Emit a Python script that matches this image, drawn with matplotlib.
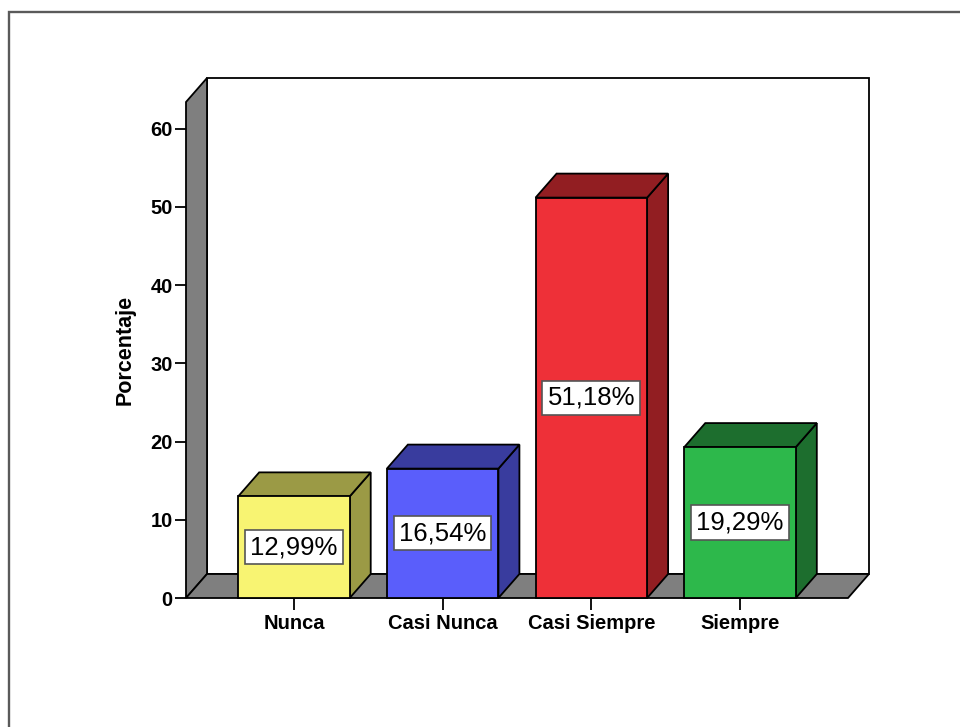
import matplotlib
matplotlib.use('Agg')
import matplotlib.pyplot as plt
from matplotlib.patches import Rectangle, Polygon

# Data
categories = ['Nunca', 'Casi Nunca', 'Casi Siempre', 'Siempre']
percentages = [12.99, 16.54, 51.18, 19.29]
front_colors = ['#F8F472', '#5A5EFB', '#EE3038', '#2DB84B']
dark_colors = ['#9B9A45', '#393C9E', '#921E22', '#1D6E2E']
yticks = [0, 10, 20, 30, 40, 50, 60]

plt.rcParams['font.family'] = ['Liberation Sans', 'DejaVu Sans']

fig = plt.figure(figsize=(9.6, 7.27), dpi=100)
ax = fig.add_axes([186 / 960, 129 / 727, 662 / 960, 496 / 727])

xmin, xmax = -0.726, len(categories) - 1 + 0.726
ytop = 63.4
ax.set_xlim(xmin, xmax)
ax.set_ylim(0, ytop)
for s in ax.spines.values():
    s.set_visible(False)
ax.patch.set_visible(False)

# depth of the 3D effect, in pixels, converted to data units
p0 = ax.transData.transform((0, 0))
d = ax.transData.inverted().transform((p0[0] + 21, p0[1] + 24))
ddx, ddy = d[0], d[1]

edge = dict(edgecolor='black', linewidth=1.3, clip_on=False)

# back wall, left wall, floor
ax.add_patch(Rectangle((xmin + ddx, ddy), xmax - xmin, ytop, facecolor='white', zorder=1, **edge))
ax.add_patch(Polygon([(xmin, 0), (xmin, ytop), (xmin + ddx, ytop + ddy), (xmin + ddx, ddy)],
                     closed=True, facecolor='#7F7F7F', zorder=2, **edge))
ax.add_patch(Polygon([(xmin, 0), (xmax, 0), (xmax + ddx, ddy), (xmin + ddx, ddy)],
                     closed=True, facecolor='#7F7F7F', zorder=2, **edge))

# bars
w = 0.75
for i, (v, fc, dc) in enumerate(zip(percentages, front_colors, dark_colors)):
    x0, x1 = i - w / 2, i + w / 2
    ax.add_patch(Polygon([(x1, 0), (x1, v), (x1 + ddx, v + ddy), (x1 + ddx, ddy)],
                         closed=True, facecolor=dc, zorder=3, **edge))
    ax.add_patch(Polygon([(x0, v), (x1, v), (x1 + ddx, v + ddy), (x0 + ddx, v + ddy)],
                         closed=True, facecolor=dc, zorder=3, **edge))
    ax.add_patch(Rectangle((x0, 0), w, v, facecolor=fc, zorder=4, **edge))
    label = f'{v:.2f}'.replace('.', ',') + '%'
    ax.text(i, v / 2, label, ha='center', va='center', fontsize=18.5, zorder=5,
            bbox=dict(boxstyle='square,pad=0.2', facecolor='white', edgecolor='#555555', linewidth=1.2))

# axes ticks and labels
ax.set_xticks(range(len(categories)))
ax.set_xticklabels(categories, fontsize=14.5, fontweight='bold')
ax.set_yticks(yticks)
ax.set_yticklabels([str(t) for t in yticks], fontsize=14.5, fontweight='bold')
ax.tick_params(axis='y', length=8, width=1.3, pad=1.5, direction='out')
ax.tick_params(axis='x', length=8.5, width=1.3, pad=3, direction='out')
ax.set_ylabel('Porcentaje', fontsize=15.5, fontweight='bold')
ax.yaxis.set_label_coords(-0.076, 0.5)

# outer frame
fig.patches.append(Rectangle((9 / 960, -0.1), 1.2, 1.1 - 12 / 727, transform=fig.transFigure,
                             fill=False, edgecolor='#5A5A5A', linewidth=1.7))

fig.savefig('out.png', dpi=100)
